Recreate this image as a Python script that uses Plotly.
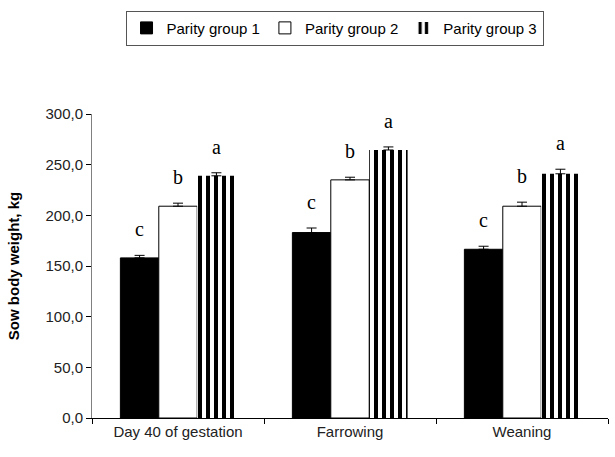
import plotly.graph_objects as go

categories = ["Day 40 of gestation", "Farrowing", "Weaning"]
series_names = ["Parity group 1", "Parity group 2", "Parity group 3"]
group1 = [158.0, 183.0, 166.5]
group2 = [209.0, 235.0, 209.0]
group3 = [239.0, 264.5, 241.0]
err1 = [2.5, 4.5, 3.0]
err2 = [3.0, 2.6, 4.0]
err3 = [3.0, 3.0, 4.5]
letters1 = ["c", "c", "c"]
letters2 = ["b", "b", "b"]
letters3 = ["a", "a", "a"]
y_ticks = [0, 50, 100, 150, 200, 250, 300]

values = [group1, group2, group3]
errors = [err1, err2, err3]
letters = [letters1, letters2, letters3]

fig = go.Figure()
styles = [
    dict(color="black", line=dict(color="black", width=1)),
    dict(color="white", line=dict(color="black", width=1)),
    dict(color="white", line=dict(color="white", width=0),
         pattern=dict(shape="|", fgcolor="black", bgcolor="white", size=8, solidity=0.5,
                      fgopacity=1)),
]
for name, vals, errs, st in zip(series_names, values, errors, styles):
    fig.add_trace(go.Bar(
        x=categories, y=vals, name=name, marker=st,
        error_y=dict(type="data", symmetric=False, array=errs, arrayminus=[0] * len(errs),
                     color="black", thickness=1, width=5),
    ))

for i, (vals, errs, lets) in enumerate(zip(values, errors, letters)):
    for j, cat in enumerate(categories):
        fig.add_annotation(
            x=cat, y=vals[j] + errs[j], text=lets[j], showarrow=False,
            xref="x", yref="y", xshift=(i - 1) * 38.3, yanchor="bottom", yshift=13,
            font=dict(family="Liberation Serif, Times New Roman, serif", size=20, color="black"),
        )

fig.update_layout(
    width=615, height=457,
    margin=dict(l=92, r=7, t=114, b=39),
    paper_bgcolor="white", plot_bgcolor="white",
    barmode="group", bargap=0.33, bargroupgap=0,
    separators=", ",
    font=dict(family="Liberation Sans, Arial, sans-serif", size=15, color="black"),
    showlegend=True,
    legend=dict(orientation="h", x=0.47, xanchor="center", y=1.34, yanchor="top",
                bordercolor="#555555", borderwidth=1, bgcolor="white",
                font=dict(size=15, color="black"), itemwidth=30, traceorder="normal",
                tracegroupgap=0),
)
fig.update_xaxes(showline=True, linecolor="black", linewidth=1, ticks="outside",
                 ticklen=5, tickcolor="black", tickson="boundaries", showgrid=False,
                 tickfont=dict(size=15, color="#222222"))
fig.update_yaxes(range=[0, 300], tickvals=y_ticks, tickformat=".1f", showline=True,
                 linecolor="#808080", linewidth=1, ticks="outside", ticklen=5,
                 tickcolor="black", showgrid=False, zeroline=False,
                 tickfont=dict(size=15, color="#222222"),
                 title=dict(text="<b>Sow body weight, kg</b>", font=dict(size=15, color="black"),
                            standoff=22))

fig.write_html("out.html")
